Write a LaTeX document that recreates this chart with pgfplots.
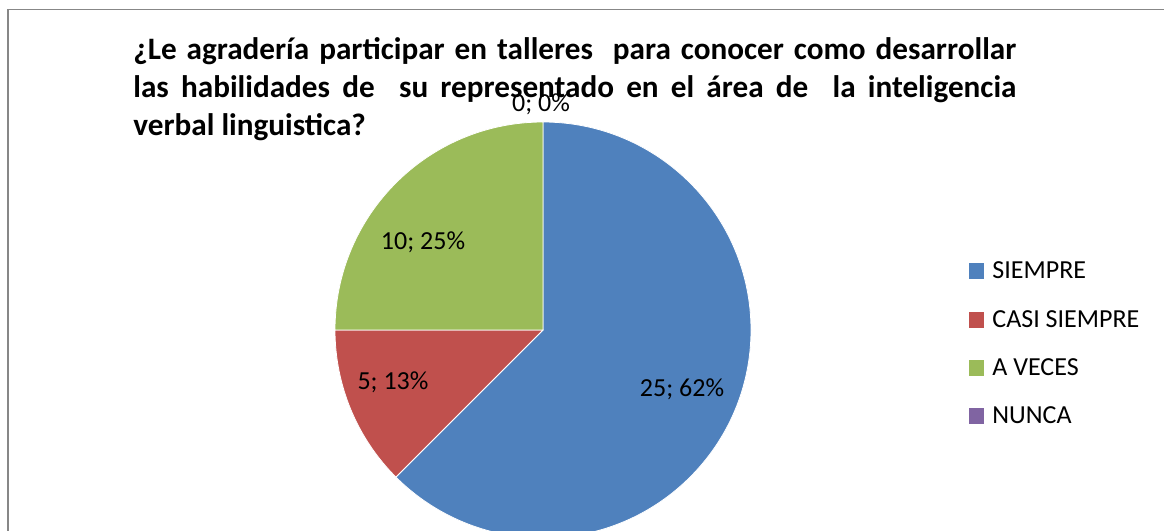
\documentclass[border=0pt]{standalone}
\usepackage{pgfplots}
\pgfplotsset{compat=1.18}
\usepackage{fontspec}
\setmainfont{Carlito}
\definecolor{cA}{HTML}{4F81BD}
\definecolor{cB}{HTML}{C0504D}
\definecolor{cC}{HTML}{9BBB59}
\definecolor{cD}{HTML}{8064A2}
\definecolor{frame}{HTML}{878787}
% data
\def\vA{25}\def\vB{5}\def\vC{10}\def\vD{0}
\pgfmathsetmacro\tot{\vA+\vB+\vC+\vD}
\pgfmathsetmacro\sA{90}
\pgfmathsetmacro\eA{\sA-360*\vA/\tot}
\pgfmathsetmacro\eB{\eA-360*\vB/\tot}
\pgfmathsetmacro\eC{\eB-360*\vC/\tot}
\begin{document}
\begin{tikzpicture}
\begin{axis}[hide axis, scale only axis, width=582pt, height=265.5pt,
  xmin=0, xmax=1164, ymin=0, ymax=531, clip=true]
\addplot[draw=none] coordinates {(0,0) (1164,531)};
% frame
\draw[frame, line width=0.8pt] (axis cs:8,-5) -- (axis cs:8,521.5) -- (axis cs:1170,521.5);
% pie
\fill[cA, draw=white, line width=0.4pt] (axis cs:543,201) -- ++(\sA:104pt) arc[start angle=\sA, end angle=\eA, radius=104pt] -- cycle;
\fill[cB, draw=white, line width=0.4pt] (axis cs:543,201) -- ++(\eA:104pt) arc[start angle=\eA, end angle=\eB, radius=104pt] -- cycle;
\fill[cC, draw=white, line width=0.4pt] (axis cs:543,201) -- ++(\eB:104pt) arc[start angle=\eB, end angle=\eC, radius=104pt] -- cycle;
% labels
\node[anchor=base, inner sep=0, font=\fontsize{13}{15}\selectfont] at (axis cs:682,134) {25; 62\%};
\node[anchor=base, inner sep=0, font=\fontsize{13}{15}\selectfont] at (axis cs:393,141) {5; 13\%};
\node[anchor=base, inner sep=0, font=\fontsize{13}{15}\selectfont] at (axis cs:423,281) {10; 25\%};
\node[anchor=base, inner sep=0, font=\fontsize{13}{15}\selectfont] at (axis cs:541,419) {0; 0\%};
% title
\node[anchor=base west, inner sep=0, font=\bfseries\fontsize{15.6}{17}\selectfont] at (axis cs:133,471) {\makebox[441.5pt][s]{¿Le agradería participar en talleres\ \ para conocer como desarrollar}};
\node[anchor=base west, inner sep=0, font=\bfseries\fontsize{15.6}{17}\selectfont] at (axis cs:133,433) {\makebox[441.5pt][s]{las habilidades de\ \ su representado en el área de\ \ la inteligencia}};
\node[anchor=base west, inner sep=0, font=\bfseries\fontsize{15.6}{17}\selectfont] at (axis cs:133,395) {verbal linguistica?};
% legend
\fill[cA] (axis cs:969,252) rectangle (axis cs:984,268);
\fill[cB] (axis cs:969,203) rectangle (axis cs:984,219);
\fill[cC] (axis cs:969,155) rectangle (axis cs:984,171);
\fill[cD] (axis cs:969,107) rectangle (axis cs:984,123);
\node[anchor=base west, inner sep=0, font=\fontsize{13}{15}\selectfont] at (axis cs:992,252) {SIEMPRE};
\node[anchor=base west, inner sep=0, font=\fontsize{13}{15}\selectfont] at (axis cs:992,203) {CASI SIEMPRE};
\node[anchor=base west, inner sep=0, font=\fontsize{13}{15}\selectfont] at (axis cs:992,155) {A VECES};
\node[anchor=base west, inner sep=0, font=\fontsize{13}{15}\selectfont] at (axis cs:992,107) {NUNCA};
\end{axis}
\pgfresetboundingbox
\useasboundingbox (current axis.south west) rectangle (current axis.north east);
\end{tikzpicture}
\end{document}
